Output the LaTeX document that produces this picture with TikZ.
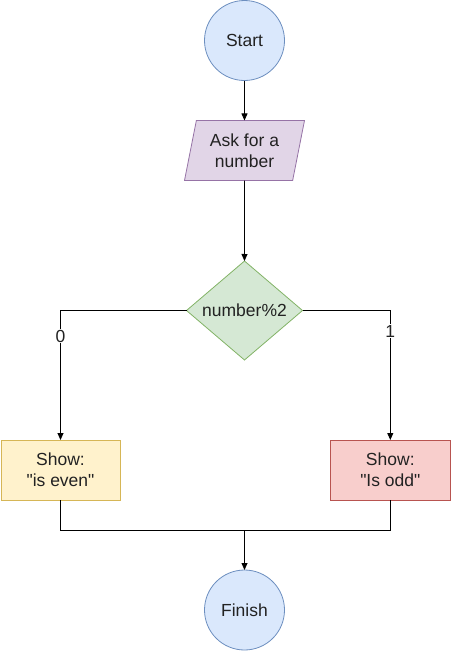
\documentclass[tikz,border=0pt]{standalone}
\usepackage{fontspec}
\setmainfont{Liberation Sans}[Ligatures=TeXOff]
\usetikzlibrary{shapes.geometric,arrows.meta}
\definecolor{bluefill}{HTML}{DAE8FC}\definecolor{bluedraw}{HTML}{6C8EBF}
\definecolor{purplefill}{HTML}{E1D5E7}\definecolor{purpledraw}{HTML}{9673A6}
\definecolor{greenfill}{HTML}{D5E8D4}\definecolor{greendraw}{HTML}{82B366}
\definecolor{yellowfill}{HTML}{FFF2CC}\definecolor{yellowdraw}{HTML}{D6B656}
\definecolor{redfill}{HTML}{F8CECC}\definecolor{reddraw}{HTML}{B85450}
\definecolor{txt}{HTML}{222222}
\tikzset{
  base/.style={font=\fontsize{17.5}{21}\selectfont, text=txt, align=center, inner sep=0pt, outer sep=0pt, line width=0.8pt},
  term/.style={base, circle, minimum size=80pt, fill=bluefill, draw=bluedraw},
  io/.style={base, trapezium, trapezium left angle=70.7, trapezium right angle=109.3, trapezium stretches body, minimum width=120pt, minimum height=60pt, fill=purplefill, draw=purpledraw},
  decide/.style={base, diamond, aspect=1.17, minimum width=116pt, minimum height=99pt, fill=greenfill, draw=greendraw},
  evenbox/.style={base, rectangle, minimum width=119pt, minimum height=60pt, fill=yellowfill, draw=yellowdraw},
  oddbox/.style={base, rectangle, minimum width=120pt, minimum height=60pt, fill=redfill, draw=reddraw},
  conn/.style={line width=0.8pt, black, -{Triangle[length=7pt,width=6pt]}},
  plain/.style={line width=0.8pt, black},
  lbl/.style={font=\fontsize{17.5}{21}\selectfont, text=txt, fill=white, inner sep=1pt}
}
\begin{document}
\begin{tikzpicture}[x=1pt,y=-1pt]
\useasboundingbox (0,0) rectangle (451,651);
\node[term] (start) at (244.5,40.5) {Start};
\node[io] (ask) at (244.5,150.5) {Ask for a\\number};
\node[decide] (dec) at (244.5,310.5) {number\%2};
\node[evenbox] (even) at (60.5,470) {Show:\\"is even"};
\node[oddbox] (odd) at (390.3,470) {Show:\\"Is odd"};
\node[term] (finish) at (244.5,610) {Finish};
\coordinate (m) at (244.5,530);
\draw[conn] (start) -- (ask);
\draw[conn] (ask) -- (dec);
\draw[conn] (dec.west) -- (dec.west -| even.north) -- (even.north);
\draw[conn] (dec.east) -- (dec.east -| odd.north) -- (odd.north);
\node[lbl] (l0) at (60.5,336) {0};
\node[lbl] (l1) at (390.3,331) {1};
\draw[plain] (even.south) -- (even.south |- m) -- (odd.south |- m) -- (odd.south);
\draw[conn] (m) -- (finish);
\end{tikzpicture}
\end{document}
